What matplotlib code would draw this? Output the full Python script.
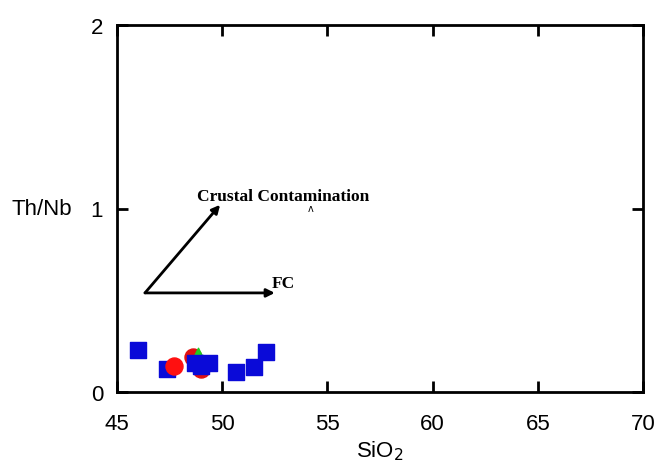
import matplotlib
matplotlib.use("Agg")
import matplotlib.pyplot as plt

# Blue squares (samples)
sq_x = [45.98, 47.39, 48.70, 49.00, 49.39, 50.66, 51.50, 52.08]
sq_y = [0.230, 0.125, 0.160, 0.140, 0.156, 0.110, 0.134, 0.219]
# Red circles
ci_x = [47.72, 48.60, 49.00]
ci_y = [0.140, 0.190, 0.125]
# Green triangle
tr_x = [48.87]
tr_y = [0.200]

xticks = [45, 50, 55, 60, 65, 70]
yticks = [0, 1, 2]

# Trend arrows (start, crustal end, FC end)
arrow_start = (46.33, 0.54)
crustal_end = (49.9, 1.02)
fc_end = (52.5, 0.54)

fig = plt.figure(figsize=(6.57, 4.64), dpi=100)
ax = fig.add_axes([117/657, 1-393/464, (643-117)/657, (393-26)/464])

ax.scatter(ci_x[1:], ci_y[1:], s=150, marker='o', color='#e01010', zorder=3)
ax.scatter(sq_x, sq_y, s=130, marker='s', color='#0a0ad8', zorder=4)
ax.scatter(ci_x[:1], ci_y[:1], s=150, marker='o', color='#ff1010', zorder=5)
ax.scatter(tr_x, tr_y, s=110, marker='^', color='#22cc22', zorder=3)

ax.annotate('', xy=crustal_end, xytext=arrow_start,
            arrowprops=dict(arrowstyle='-|>', color='black', lw=2, mutation_scale=12,
                            shrinkA=0, shrinkB=0))
ax.annotate('', xy=fc_end, xytext=arrow_start,
            arrowprops=dict(arrowstyle='-|>', color='black', lw=2, mutation_scale=12,
                            shrinkA=0, shrinkB=0))
ax.text(48.78, 1.07, 'Crustal Contamination', fontfamily='Liberation Serif',
        fontweight='bold', fontsize=12.5, va='center', ha='left')
ax.text(52.35, 0.595, 'FC', fontfamily='Liberation Serif',
        fontweight='bold', fontsize=12.5, va='center', ha='left')
ax.text(54.2, 1.0, 'ʌ', fontsize=7, ha='center', va='center')

ax.set_xlim(45, 70)
ax.set_ylim(0, 2)
ax.set_xticks(xticks)
ax.set_yticks(yticks)
ax.tick_params(direction='in', length=8, width=2, top=True, right=True,
               labelsize=16)
ax.tick_params(axis='x', pad=15)
ax.tick_params(axis='y', pad=10)
for lab in ax.get_xticklabels() + ax.get_yticklabels():
    lab.set_fontfamily('Liberation Sans')
for sp in ax.spines.values():
    sp.set_linewidth(2)

ax.set_xlabel('SiO$_2$', fontsize=16, fontfamily='Liberation Sans', labelpad=3)
fig.text(42/657, 1-210/464, 'Th/Nb', fontsize=16, fontfamily='Liberation Sans',
         ha='center', va='center')

fig.savefig('out.png', dpi=100)
